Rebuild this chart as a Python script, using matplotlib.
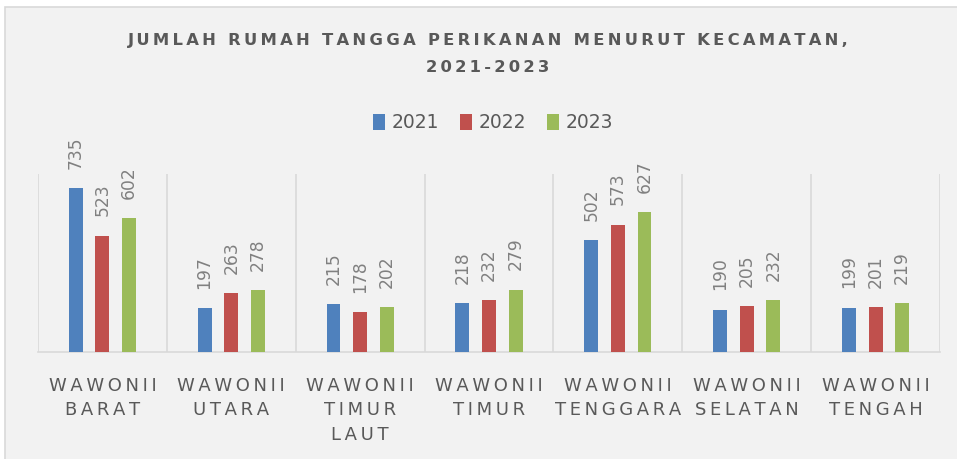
"""
Jumlah rumah tangga perikanan menurut kecamatan, 2021-2023 (grouped bars).
"""

import matplotlib
matplotlib.use("Agg")
import matplotlib.pyplot as plt
import matplotlib.patches as mpatches
import numpy as np

plt.rcParams["font.family"] = ["DejaVu Sans"]

CATEGORIES = [
    "WAWONII\nBARAT",
    "WAWONII\nUTARA",
    "WAWONII\nTIMUR\nLAUT",
    "WAWONII\nTIMUR",
    "WAWONII\nTENGGARA",
    "WAWONII\nSELATAN",
    "WAWONII\nTENGAH",
]
YEARS = ["2021", "2022", "2023"]
V2021 = [735, 197, 215, 218, 502, 190, 199]
V2022 = [523, 263, 178, 232, 573, 205, 201]
V2023 = [602, 278, 202, 279, 627, 232, 219]
TITLE = ["JUMLAH RUMAH TANGGA PERIKANAN MENURUT KECAMATAN,", "2021-2023"]

COLORS = ["#4f81bd", "#c0504d", "#9bbb59"]
BG = "#f2f2f2"
GRID = "#d9d9d9"
TEXT = "#595959"
LABEL = "#808080"
THIN = "\u2009"


def spaced(s):
    # Excel-style letter spacing, line by line
    return "\n".join(THIN.join(line) for line in s.split("\n"))


fig = plt.figure(figsize=(9.57, 4.59), dpi=100)
fig.patch.set_facecolor("white")

# chart area background (grey panel with thin border)
panel = mpatches.Rectangle((5 / 957, -0.01), 1, 1 - 7 / 459 + 0.01, transform=fig.transFigure,
                           facecolor=BG, edgecolor=GRID, linewidth=1.2, zorder=-5)
fig.add_artist(panel)

ax = fig.add_axes([38 / 957, 1 - 352 / 459, (940 - 38) / 957, (352 - 174) / 459])
ax.patch.set_visible(False)

x = np.arange(len(CATEGORIES))
w = 0.108
step = 0.207
series = [V2021, V2022, V2023]
for i, (vals, color, year) in enumerate(zip(series, COLORS, YEARS)):
    xs = x + (i - 1) * step
    ax.bar(xs, vals, width=w, color=color, label=year, zorder=3)
    for xi, v in zip(xs, vals):
        ax.annotate(str(v), (xi, v), xytext=(0, 14), textcoords="offset points",
                    rotation=90, ha="center", va="bottom", fontsize=12.3,
                    color=LABEL)

ax.set_xlim(-0.5, len(CATEGORIES) - 0.5)
ax.set_ylim(0, 800)
ax.set_yticks([])
for b in np.arange(-0.5, len(CATEGORIES), 1.0):
    ax.axvline(b, color=GRID, linewidth=1.2, zorder=1)
for s in ["top", "right", "left"]:
    ax.spines[s].set_visible(False)
ax.spines["bottom"].set_color(GRID)
ax.spines["bottom"].set_linewidth(1.2)

ax.set_xticks(x)
ax.set_xticklabels([spaced(c) for c in CATEGORIES], fontsize=13, color=TEXT,
                   linespacing=1.45)
ax.tick_params(axis="x", length=0, pad=18)

fig.text(488 / 957, 1 - 41 / 459, spaced(TITLE[0]),
         ha="center", va="center", fontsize=11.8, fontweight="bold", color=TEXT)
fig.text(488 / 957, 1 - 68 / 459, spaced(TITLE[1]),
         ha="center", va="center", fontsize=11.8, fontweight="bold", color=TEXT)

leg = fig.legend(loc="center", bbox_to_anchor=(493 / 957, 1 - 123 / 459), ncol=3,
                 frameon=False, fontsize=13.5, handlelength=0.65, handleheight=0.9,
                 handletextpad=0.35, columnspacing=1.1)
for t in leg.get_texts():
    t.set_color(TEXT)

fig.savefig("out.png", dpi=100, facecolor=fig.get_facecolor())
